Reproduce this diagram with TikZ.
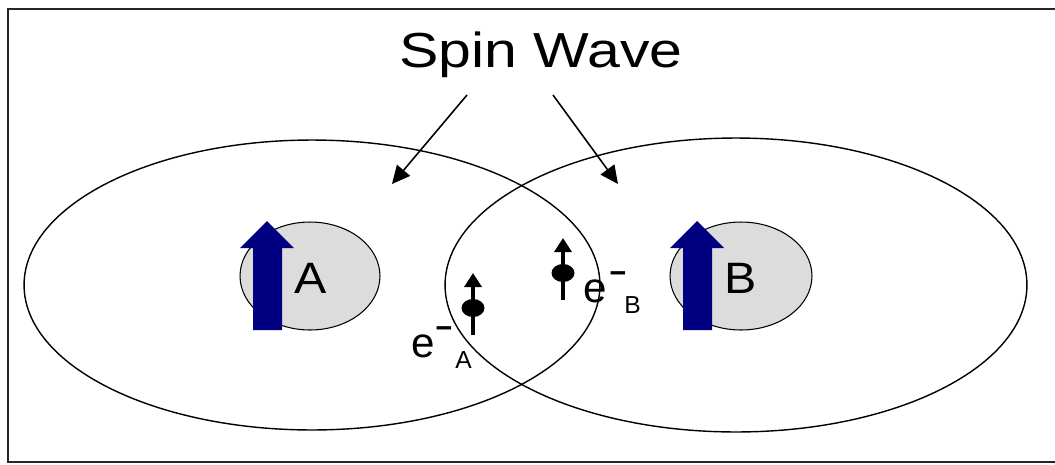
\documentclass[tikz,border=0pt]{standalone}
\usepackage{fontspec}
\setmainfont{Liberation Sans}
\usetikzlibrary{shapes.geometric,arrows.meta}
\definecolor{spinblue}{RGB}{0,0,128}
\definecolor{coregray}{RGB}{220,220,220}
\begin{document}
\begin{tikzpicture}[x=0.02cm, y=-0.02cm,
    region/.style={draw, ellipse, line width=0.8pt, inner sep=0pt},
    core/.style={draw, ellipse, fill=coregray, line width=0.6pt, inner sep=0pt, minimum height=2.16cm},
    edot/.style={ellipse, fill=black, inner sep=0pt, minimum width=0.46cm, minimum height=0.36cm},
    spinline/.style={line width=0.07cm, -{Triangle[length=0.28cm, width=0.34cm]}},
    wave/.style={line width=0.9pt, -{Triangle[length=0.36cm, width=0.34cm]}},
    big/.style={inner sep=0pt, font=\fontsize{25}{30}\selectfont, xscale=1.1},
    elbl/.style={inner sep=0pt, font=\fontsize{24}{28}\selectfont},
    sub/.style={inner sep=0pt, font=\fontsize{14}{17}\selectfont}
]
    \useasboundingbox (0,0) rectangle (1055,464);
    % frame, open on the right
    \draw[line width=1.4pt, black!85] (1055,9) -- (8,9) -- (8,462) -- (1055,462);
    % regions of the two atoms
    \node[region, minimum width=11.52cm, minimum height=5.8cm] (regionA) at (312,285) {};
    \node[region, minimum width=11.64cm, minimum height=5.88cm] (regionB) at (736,285) {};
    % cores
    \node[core, minimum width=2.8cm] (coreA) at (310,276) {};
    \node[core, minimum width=2.84cm] (coreB) at (741,276) {};
    % local moments
    \fill[spinblue] (253,330) -- (253,248) -- (240,248) -- (267,221) -- (294,248) -- (282,248) -- (282,330) -- cycle;
    \fill[spinblue] (683,330) -- (683,248) -- (670,248) -- (697,221) -- (724,248) -- (712,248) -- (712,330) -- cycle;
    \node[big, anchor=base] (labA) at (311,293) {A};
    \node[big, anchor=base] (labB) at (741,293) {B};
    % title and its arrows
    \node[inner sep=0pt, font=\fontsize{28}{34}\selectfont, xscale=1.2, anchor=base] (title) at (541,67) {Spin Wave};
    \coordinate (fromA) at (467,95);
    \coordinate (toA) at (392,184);
    \coordinate (fromB) at (553,95);
    \coordinate (toB) at (618,184);
    \draw[wave] (fromA) -- (toA);
    \draw[wave] (fromB) -- (toB);
    % electron A
    \coordinate (tailA) at (473,335);
    \coordinate (tipA) at (473,273);
    \draw[spinline] (tailA) -- (tipA);
    \node[edot] (dotA) at (473,308) {};
    \node[elbl, anchor=base west] (eA) at (411,357) {e};
    \node[elbl, xscale=1.4] (minusA) at (444,333) {-};
    \node[sub, anchor=base west] (subA) at (455,368) {A};
    % electron B
    \coordinate (tailB) at (563,300);
    \coordinate (tipB) at (563,238);
    \draw[spinline] (tailB) -- (tipB);
    \node[edot] (dotB) at (563,273) {};
    \node[elbl, anchor=base west] (eB) at (583,302) {e};
    \node[elbl, xscale=1.4] (minusB) at (618,278) {-};
    \node[sub, anchor=base west] (subB) at (624,313) {B};
\end{tikzpicture}
\end{document}
